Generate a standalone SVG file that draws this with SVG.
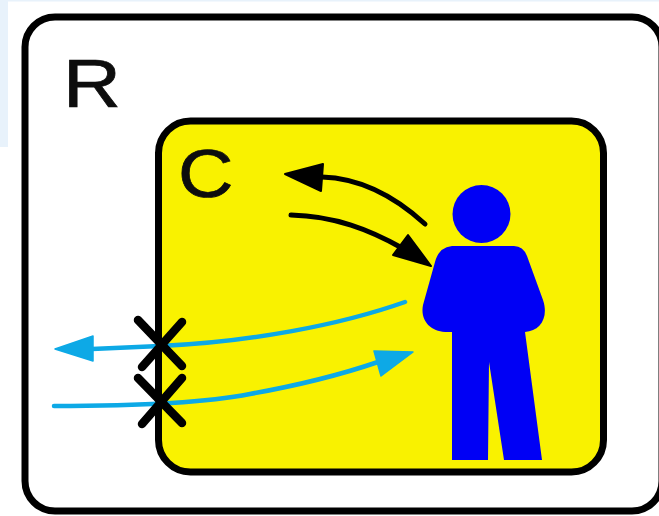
<svg xmlns="http://www.w3.org/2000/svg" width="659" height="516" viewBox="0 0 659 516">
<defs><filter id="soft" x="-5%" y="-5%" width="110%" height="110%"><feGaussianBlur stdDeviation="0.7"/></filter></defs>
<style>
.lbl{font-family:"Liberation Sans",Arial,sans-serif;font-size:68px;fill:#0a0a0a;stroke:#0a0a0a;stroke-width:0.7}
.blk{fill:none;stroke:#000;stroke-width:5;stroke-linecap:round}
.cy{fill:none;stroke:#0aa9e6;stroke-width:4.5;stroke-linecap:round}
.x{stroke:#000;stroke-width:8.5;stroke-linecap:round}
</style>
<rect width="659" height="516" fill="#fff"/>
<rect width="8" height="147" fill="#e8f2fb"/>
<rect width="659" height="1.500" fill="#e8f2fb"/>
<g filter="url(#soft)">
<g id="node-R">
<rect x="25" y="17" width="637" height="494" rx="30" ry="30" fill="#fff" stroke="#000" stroke-width="7"/>
<text class="lbl" transform="translate(63 107) scale(1.18 1)">R</text>
</g>
<g id="node-C">
<rect x="158.500" y="121" width="445" height="351" rx="32" ry="32" fill="#f9f200" stroke="#000" stroke-width="7"/>
<text class="lbl" transform="translate(178 197) scale(1.13 1)">C</text>
</g>
<g id="person">
<circle cx="481.500" cy="214" r="29" fill="#0000f5"/>
<path d="M452 246H514Q523 246 527 256L543 300C549 318 540 331 525 332L542 460H504L489 362L488 460H452V332H445C430 331 420 320 423 305L435 262Q439 247 452 246Z" fill="#0000f5"/>
</g>
<g id="connectors">
<path class="blk" d="M425 224C390 192 355 178 322 177"/>
<path d="M285 174L323 164L321 191Z" fill="#000" stroke="#000" stroke-width="2" stroke-linejoin="round"/>
<path class="blk" d="M291 215C335 216 370 230 402 248"/>
<path d="M431 266L393 255L408 235Z" fill="#000" stroke="#000" stroke-width="2" stroke-linejoin="round"/>
<path class="cy" d="M405 302C340 325 250 342 160 346L92 349"/>
<path d="M55 349L93 336L93 361Z" fill="#0aa9e6" stroke="#0aa9e6" stroke-width="1.500" stroke-linejoin="round"/>
<path class="cy" d="M54 406C120 406 200 404 250 394C300 385 340 375 378 362"/>
<path d="M413 352L381 376L374 351Z" fill="#0aa9e6" stroke="#0aa9e6" stroke-width="1.500" stroke-linejoin="round"/>
<path class="x" d="M138 320L182 366M182 322L142 367M138 378L182 423M182 378L142 424"/>
</g>
</g>
</svg>
